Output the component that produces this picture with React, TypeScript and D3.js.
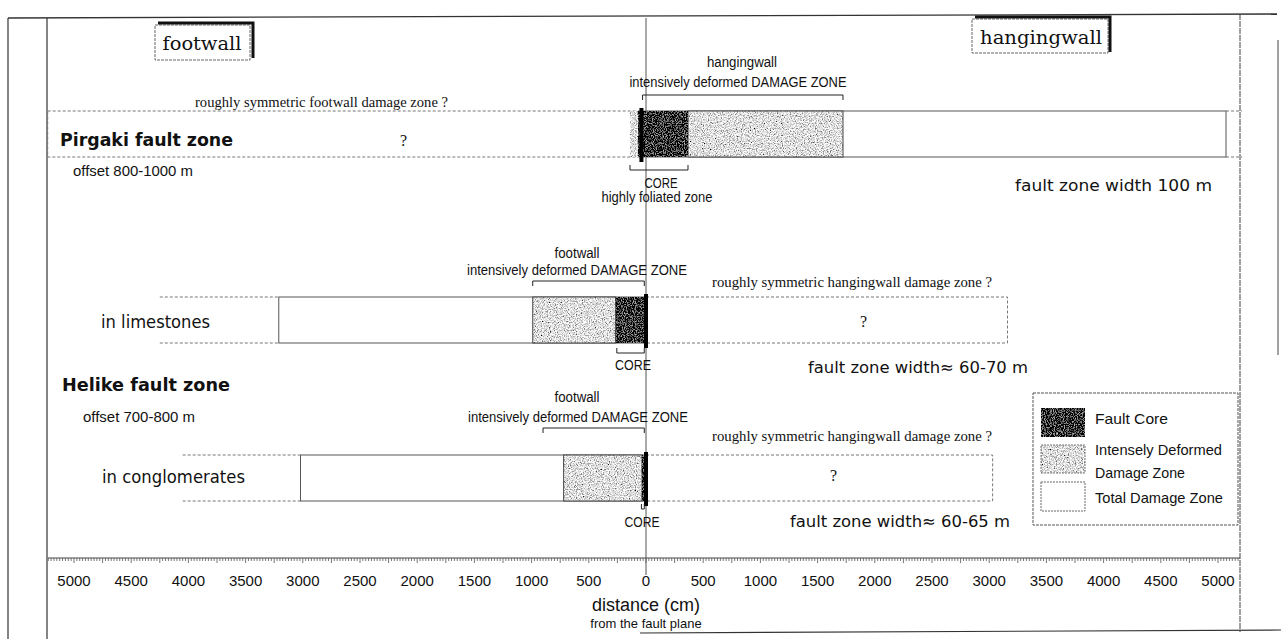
import React from "react";
import * as d3 from "d3";

// ---- data (cm from the fault plane; negative = footwall) ----
const rowNames = ["Pirgaki fault zone", "in limestones", "in conglomerates"];
const totalFrom = [0, -3210, -3020];
const totalTo = [5070, 0, 0];
const totalExtFrom = [5070, -4250, -4050];
const totalExtTo = [5210, -3210, -3020];
const guessFrom = [-5230, 0, 0];
const guessTo = [0, 3160, 3030];
const intenseFrom = [367, -990, -720];
const intenseTo = [1722, -265, -35];
const coreFrom = [-70, -265, -35];
const coreTo = [367, 0, 0];
const planeMark = [-40, 0, 0];
const foliatedFrom = [-140];
const foliatedTo = [-70];
const dzBracketFrom = [-30, -990, -900];
const dzBracketTo = [1722, -15, -15];
const coreBracketFrom = [-140, -255, -40];
const coreBracketTo = [367, -15, -15];
const widthLabels = ["fault zone width 100 m", "fault zone width\u2248 60-70 m", "fault zone width\u2248 60-65 m"];
const axisTicks = [-5000, -4500, -4000, -3500, -3000, -2500, -2000, -1500, -1000, -500, 0, 500, 1000, 1500, 2000, 2500, 3000, 3500, 4000, 4500, 5000];
const legendLabels = ["Fault Core", "Intensely Deformed", "Damage Zone", "Total Damage Zone"];

// ---- layout ----
const rowTop = [111, 297, 455];
const rowH = 46;
const narrow = "'Liberation Sans Narrow', 'Liberation Sans', Arial, sans-serif";
const serif = "'Liberation Serif', 'Times New Roman', serif";
const schoolbook = "'DejaVu Serif', serif";
const comic = "'DejaVu Sans', 'Noto Sans', sans-serif";

export default function App() {
  const x = d3.scaleLinear().domain([-5000, 5000]).range([74, 1218]);
  const minor = d3.range(-5225, 5226, 25).filter((v) => x(v) >= 48 && x(v) <= 1240);
  const axisY = 558;

  const bracket = (a: number, b: number, y: number, dir: number, key: string) => (
    <path
      key={key}
      d={`M${x(a)},${y + dir * 5}V${y}H${x(b)}V${y + dir * 5}`}
      fill="none"
      stroke="#222"
      strokeWidth={1}
    />
  );

  const textAt = (
    t: string,
    px: number,
    py: number,
    opts: { size?: number; family?: string; anchor?: string; len?: number; weight?: string } = {}
  ) => (
    <text
      key={t + px + py}
      x={px}
      y={py}
      fontSize={opts.size ?? 14}
      fontFamily={opts.family ?? narrow}
      textAnchor={opts.anchor ?? "start"}
      fontWeight={opts.weight ?? "normal"}
      fill="#111"
      {...(opts.len ? { textLength: opts.len, lengthAdjust: "spacingAndGlyphs" } : {})}
    >
      {t}
    </text>
  );

  return (
    <svg width={1281} height={639} style={{ position: "absolute", left: 0, top: 0, background: "#fff" }}>
      <defs>
        <filter id="noiseDark" x="0" y="0" width="1" height="1">
          <feTurbulence type="fractalNoise" baseFrequency="0.9" numOctaves={2} seed={4} result="n" />
          <feColorMatrix
            in="n"
            type="matrix"
            values="1.5 0 0 0 -0.72  1.5 0 0 0 -0.72  1.5 0 0 0 -0.72  0 0 0 0 1"
            result="g"
          />
          <feComposite in="g" in2="SourceGraphic" operator="in" />
        </filter>
        <filter id="noiseLight" x="0" y="0" width="1" height="1">
          <feTurbulence type="fractalNoise" baseFrequency="0.85" numOctaves={2} seed={9} result="n" />
          <feColorMatrix
            in="n"
            type="matrix"
            values="2.2 0 0 0 -0.36  2.2 0 0 0 -0.36  2.2 0 0 0 -0.36  0 0 0 0 1"
            result="g"
          />
          <feComposite in="g" in2="SourceGraphic" operator="in" />
        </filter>
      </defs>

      {/* frame */}
      <line x1={8} y1={18} x2={1277} y2={14} stroke="#333" strokeWidth={1.3} />
      <line x1={8} y1={18} x2={8} y2={639} stroke="#333" strokeWidth={1.2} />
      <line x1={47} y1={18} x2={47} y2={639} stroke="#333" strokeWidth={1.2} />
      <line x1={1240} y1={14} x2={1240} y2={632} stroke="#444" strokeWidth={1} strokeDasharray="6,1" />
      <line x1={1278} y1={40} x2={1278} y2={355} stroke="#444" strokeWidth={1} />
      <line x1={640} y1={633} x2={1281} y2={630} stroke="#333" strokeWidth={1.2} />

      {/* footwall / hangingwall tags */}
      <rect x={155} y={25} width={95} height={35} fill="#fff" stroke="#666" strokeDasharray="3,1" />
      <path d="M158,23H253V58" fill="none" stroke="#111" strokeWidth={3} />
      {textAt("footwall", 202, 50, { size: 19, family: schoolbook, anchor: "middle", len: 79 })}
      <rect x={972} y={19} width={136} height={34} fill="#fff" stroke="#666" strokeDasharray="3,1" />
      <path d="M975,17H1110V52" fill="none" stroke="#111" strokeWidth={3} />
      {textAt("hangingwall", 1041, 44, { size: 19, family: schoolbook, anchor: "middle", len: 122 })}

      {/* fault plane */}
      <line x1={x(0)} y1={18} x2={x(0)} y2={575} stroke="#555" strokeWidth={1} />

      {rowNames.map((name, i) => {
        const y0 = rowTop[i];
        const y1 = y0 + rowH;
        return (
          <g key={name}>
            <rect
              x={x(guessFrom[i])}
              y={y0}
              width={x(guessTo[i]) - x(guessFrom[i])}
              height={rowH}
              fill="none"
              stroke="#777"
              strokeDasharray="3,2"
            />
            <rect
              x={x(totalFrom[i])}
              y={y0}
              width={x(totalTo[i]) - x(totalFrom[i])}
              height={rowH}
              fill="#fff"
              stroke="#555"
              strokeWidth={1}
            />
            <line x1={x(totalExtFrom[i])} x2={x(totalExtTo[i])} y1={y0} y2={y0} stroke="#777" strokeDasharray="3,2" />
            <line x1={x(totalExtFrom[i])} x2={x(totalExtTo[i])} y1={y1} y2={y1} stroke="#777" strokeDasharray="3,2" />
            <rect
              x={x(intenseFrom[i])}
              y={y0}
              width={x(intenseTo[i]) - x(intenseFrom[i])}
              height={rowH}
              fill="#000"
              filter="url(#noiseLight)"
            />
            <rect
              x={x(intenseFrom[i])}
              y={y0}
              width={x(intenseTo[i]) - x(intenseFrom[i])}
              height={rowH}
              fill="none"
              stroke="#444"
            />
            <rect
              x={x(coreFrom[i])}
              y={y0}
              width={x(coreTo[i]) - x(coreFrom[i])}
              height={rowH}
              fill="#000"
              filter="url(#noiseDark)"
            />
            {i < foliatedFrom.length && (
              <rect
                x={x(foliatedFrom[i])}
                y={y0}
                width={x(foliatedTo[i]) - x(foliatedFrom[i])}
                height={rowH}
                fill="#000"
                filter="url(#noiseLight)"
              />
            )}
            <line
              x1={x(planeMark[i])}
              x2={x(planeMark[i])}
              y1={y0 - 3}
              y2={y1 + 5}
              stroke="#000"
              strokeWidth={4}
            />
          </g>
        );
      })}

      {/* brackets */}
      {bracket(dzBracketFrom[0], dzBracketTo[0], 95, 1, "b0")}
      {bracket(coreBracketFrom[0], coreBracketTo[0], 170, -1, "c0")}
      {bracket(dzBracketFrom[1], dzBracketTo[1], 281, 1, "b1")}
      {bracket(coreBracketFrom[1], coreBracketTo[1], 353, -1, "c1")}
      {bracket(dzBracketFrom[2], dzBracketTo[2], 428, 1, "b2")}
      {bracket(coreBracketFrom[2], coreBracketTo[2], 509, -1, "c2")}

      {/* Pirgaki texts */}
      {textAt("hangingwall", 742, 67, { anchor: "middle", len: 70 })}
      {textAt("intensively deformed DAMAGE ZONE", 738, 87, { anchor: "middle", len: 217 })}
      {textAt("roughly symmetric footwall damage zone ?", 195, 107, { size: 14, family: serif, len: 253 })}
      {textAt(rowNames[0], 60, 146, { size: 18, family: comic, weight: "bold", len: 173 })}
      {textAt("?", 400, 146, { size: 16, family: serif })}
      {textAt("offset 800-1000 m", 73, 176, { size: 15, len: 120 })}
      {textAt("CORE", 661, 188, { anchor: "middle", len: 33 })}
      {textAt("highly foliated zone", 657, 202, { anchor: "middle", len: 111 })}
      {textAt(widthLabels[0], 1015, 191, { size: 16, family: comic, len: 197 })}

      {/* Helike limestones texts */}
      {textAt("footwall", 577, 258, { anchor: "middle", len: 45 })}
      {textAt("intensively deformed DAMAGE ZONE", 577, 275, { anchor: "middle", len: 220 })}
      {textAt("roughly symmetric hangingwall damage zone ?", 712, 287, { size: 14, family: serif, len: 280 })}
      {textAt(rowNames[1], 101, 328, { size: 17, family: comic, len: 109 })}
      {textAt("?", 860, 327, { size: 16, family: serif })}
      {textAt("CORE", 633, 370, { anchor: "middle", len: 36 })}
      {textAt(widthLabels[1], 808, 373, { size: 16, family: comic, len: 220 })}
      {textAt("Helike fault zone", 62, 391, { size: 18, family: comic, weight: "bold", len: 168 })}
      {textAt("offset 700-800 m", 83, 422, { size: 15, len: 112 })}

      {/* Helike conglomerates texts */}
      {textAt("footwall", 577, 402, { anchor: "middle", len: 45 })}
      {textAt("intensively deformed DAMAGE ZONE", 578, 422, { anchor: "middle", len: 220 })}
      {textAt("roughly symmetric hangingwall damage zone ?", 712, 441, { size: 14, family: serif, len: 280 })}
      {textAt(rowNames[2], 102, 483, { size: 17, family: comic, len: 143 })}
      {textAt("?", 830, 481, { size: 16, family: serif })}
      {textAt("CORE", 642, 527, { anchor: "middle", len: 35 })}
      {textAt(widthLabels[2], 790, 527, { size: 16, family: comic, len: 220 })}

      {/* legend */}
      <rect x={1033} y={393} width={205} height={132} fill="#fff" stroke="#555" strokeDasharray="3,1" />
      <rect x={1041} y={408} width={44} height={29} fill="#000" filter="url(#noiseDark)" />
      <rect x={1041} y={445} width={44} height={28} fill="#000" filter="url(#noiseLight)" />
      <rect x={1041} y={445} width={44} height={28} fill="none" stroke="#777" strokeDasharray="2,1" />
      <rect x={1041} y={482} width={44} height={29} fill="#fff" stroke="#666" strokeDasharray="2,1" />
      {textAt(legendLabels[0], 1095, 424, { size: 15, len: 73 })}
      {textAt(legendLabels[1], 1095, 455, { size: 15, len: 127 })}
      {textAt(legendLabels[2], 1095, 478, { size: 15, len: 90 })}
      {textAt(legendLabels[3], 1095, 503, { size: 15, len: 128 })}

      {/* axis */}
      <line x1={48} x2={1240} y1={axisY} y2={axisY} stroke="#444" strokeWidth={1} />
      {minor.map((v) => (
        <line
          key={"m" + v}
          x1={x(v)}
          x2={x(v)}
          y1={axisY}
          y2={axisY + (v % 250 === 0 ? 5 : 3)}
          stroke="#555"
          strokeWidth={0.8}
        />
      ))}
      {axisTicks.map((v) => (
        <text
          key={"t" + v}
          x={x(v)}
          y={586}
          textAnchor="middle"
          fontSize={15}
          fontFamily="'Liberation Sans', Arial, sans-serif"
          fill="#111"
        >
          {Math.abs(v)}
        </text>
      ))}
      <text x={x(0)} y={611} textAnchor="middle" fontSize={18} fontFamily="'Liberation Sans', Arial, sans-serif" fill="#111">
        distance (cm)
      </text>
      <text x={x(0)} y={628} textAnchor="middle" fontSize={13} fontFamily="'Liberation Sans', Arial, sans-serif" fill="#111">
        from the fault plane
      </text>
    </svg>
  );
}
